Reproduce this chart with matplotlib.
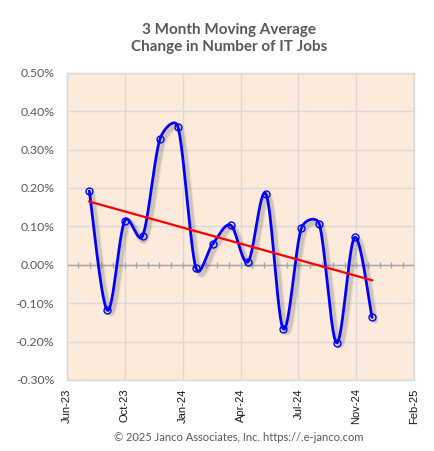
import numpy as np
import matplotlib
matplotlib.use("Agg")
import matplotlib.pyplot as plt
import matplotlib.dates as mdates
import matplotlib.patheffects as pe
from matplotlib.ticker import FixedLocator, FixedFormatter
import datetime as dt

# ---- data ----
months = ["2023-08-01", "2023-09-01", "2023-10-01", "2023-11-01", "2023-12-01",
          "2024-01-01", "2024-02-01", "2024-03-01", "2024-04-01", "2024-05-01",
          "2024-06-01", "2024-07-01", "2024-08-01", "2024-09-01", "2024-10-01",
          "2024-11-01", "2024-12-01"]
values = [0.192, -0.118, 0.114, 0.075, 0.327, 0.359, -0.008, 0.054, 0.103, 0.008,
          0.184, -0.167, 0.095, 0.106, -0.203, 0.071, -0.137]  # percent
x_tick_labels = ["Jun-23", "Oct-23", "Jan-24", "Apr-24", "Jul-24", "Nov-24", "Feb-25"]
y_ticks = [-0.3, -0.2, -0.1, 0.0, 0.1, 0.2, 0.3, 0.4, 0.5]

title = "3 Month Moving Average\nChange in Number of IT Jobs"
footer = "\u00a9 2025 Janco Associates, Inc. https://.e-janco.com"

# ---- prep ----
x = mdates.date2num([dt.datetime.strptime(m, "%Y-%m-%d") for m in months])
y = np.array(values)

axis_start = mdates.date2num(dt.datetime(2023, 6, 23))
major_days = 100
minor_days = 20
x_ticks = [axis_start + major_days * i for i in range(len(x_tick_labels))]


def excel_smooth(P, n=50):
    """Excel-style smoothed line (bezier, tension 1/6 limited by segment length)."""
    out = []
    N = len(P)
    for i in range(N - 1):
        p0 = P[i - 1] if i > 0 else P[i]
        p1 = P[i]
        p2 = P[i + 1]
        p3 = P[i + 2] if i + 2 < N else P[i + 1]
        d02 = np.hypot(*(p2 - p0))
        d12 = np.hypot(*(p2 - p1))
        d13 = np.hypot(*(p3 - p1))
        f1 = 1 / 6 if d02 / 6 < d12 / 2 else d12 / d02 / 2
        f2 = 1 / 6 if d13 / 6 < d12 / 2 else d12 / d13 / 2
        c1 = p1 + (p2 - p0) * f1
        c2 = p2 - (p3 - p1) * f2
        t = np.linspace(0, 1, n, endpoint=(i == N - 2))[:, None]
        seg = ((1 - t) ** 3) * p1 + 3 * ((1 - t) ** 2) * t * c1 + 3 * (1 - t) * t ** 2 * c2 + t ** 3 * p2
        out.append(seg)
    return np.vstack(out)


# ---- figure ----
fig = plt.figure(figsize=(4.34, 4.51), dpi=100)
ax = fig.add_axes([66.7 / 434, 1 - 380 / 451, (414.3 - 66.7) / 434, (380 - 72.7) / 451])
ax.set_facecolor("#FDEADA")

ax.set_xlim(axis_start, axis_start + major_days * (len(x_tick_labels) - 1))
ax.set_ylim(-0.3, 0.5)

# smoothing computed in display space, mapped back to data
disp = ax.transData.transform(np.column_stack([x, y]))
sm = ax.transData.inverted().transform(excel_smooth(disp))
sx, sy = sm[:, 0], sm[:, 1]

coef = np.polyfit(x, y, 1)
tx = np.array([x[0], x[-1]])
ty = np.polyval(coef, tx)

grid_c = "#D9D9D9"
ax.xaxis.set_major_locator(FixedLocator(x_ticks))
ax.xaxis.set_major_formatter(FixedFormatter(x_tick_labels))
ax.set_yticks(y_ticks)
ax.set_yticklabels([f"{v:.2f}%" for v in y_ticks])
ax.grid(True, color=grid_c, linewidth=1.0, zorder=0)
ax.set_axisbelow(True)
for s in ax.spines.values():
    s.set_color(grid_c)
    s.set_linewidth(1.0)

ax.tick_params(axis="y", length=0, pad=9, labelsize=8.8, labelcolor="#595959")
ax.tick_params(axis="x", length=0, pad=6, labelsize=8, labelcolor="#1a1a1a", rotation=90)
for lab in ax.get_yticklabels():
    lab.set_fontfamily("Lato")
for lab in ax.get_xticklabels():
    lab.set_fontfamily("Liberation Sans")

# zero axis line with cross ticks
ax.axhline(0, color="#A6A6A6", linewidth=1.0, zorder=1)
tick_pos = np.arange(axis_start, axis_start + 600 + 0.1, minor_days)
ax.plot(tick_pos, np.zeros_like(tick_pos), linestyle="none", marker="|",
        markersize=4.5, markeredgewidth=1.0, color="#A6A6A6", zorder=1)

# data
shadow = [pe.SimpleLineShadow(offset=(2.2, -2.2), shadow_color="#555555", alpha=0.10, linewidth=5.0),
          pe.SimpleLineShadow(offset=(2.2, -2.2), shadow_color="#555555", alpha=0.18, linewidth=3.2),
          pe.Normal()]
ax.plot(sx, sy, color="#0000FF", linewidth=2.0, zorder=3, solid_capstyle="round",
        path_effects=shadow)
ax.plot(x, y, linestyle="none", marker="o", markersize=5.0, markerfacecolor="none",
        markeredgecolor="#0000FF", markeredgewidth=1.0, zorder=4)
ax.plot(tx, ty, color="#FF0000", linewidth=1.6, zorder=5)

fig.text(229 / 434, 1 - 38.5 / 451, title, ha="center", va="center", fontsize=11,
         fontweight="bold", color="#595959", family="Lato", linespacing=1.35)
fig.text(238.8 / 434, 1 - 437.7 / 451, footer, ha="center", va="center", fontsize=8,
         color="#595959", family="Lato")

fig.savefig("out.png", dpi=100)
